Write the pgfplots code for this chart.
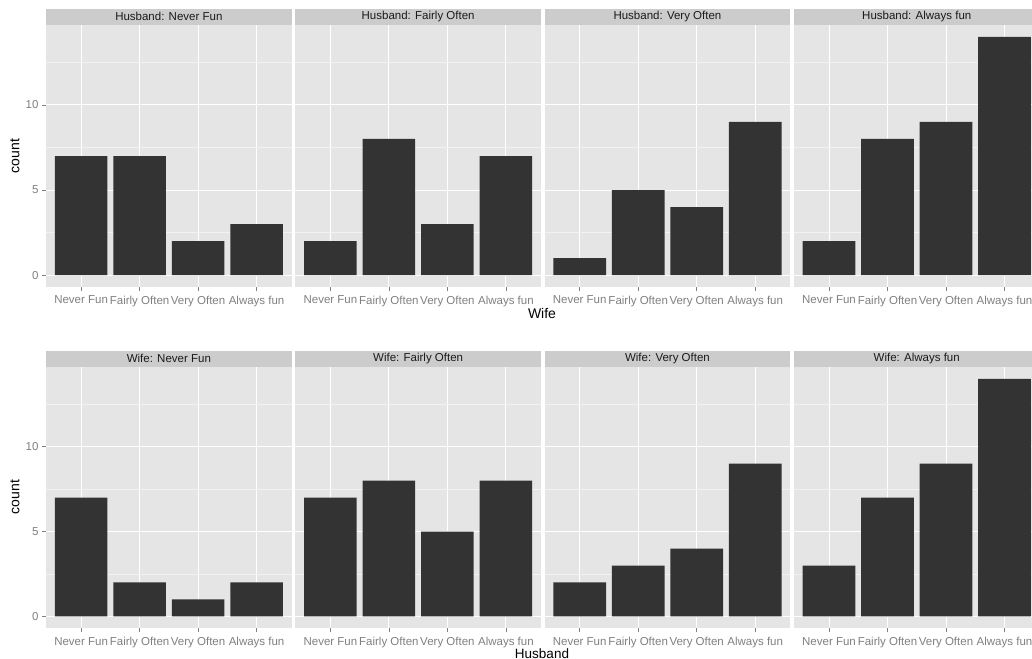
\documentclass[border=0pt]{standalone}
\usepackage{pgfplots}
\pgfplotsset{compat=1.18}
\usepackage{fontspec}
\setmainfont{Liberation Sans}
\definecolor{g90}{HTML}{E5E5E5}
\definecolor{g80}{HTML}{CCCCCC}
\definecolor{g50}{HTML}{7F7F7F}
\definecolor{g95}{HTML}{F2F2F2}
\definecolor{barc}{HTML}{333333}
\definecolor{g10}{HTML}{1A1A1A}
\pgfplotsset{
 panel/.style={
  scale only axis, width=245.7pt, height=#1,
  xmin=0.4, xmax=4.6, ymin=-0.7, ymax=14.7,
  axis background/.style={fill=g90},
  axis line style={draw=none},
  xtick={1,2,3,4}, xticklabels={Never Fun,Fairly Often,Very Often,Always fun},
  ytick={0,5,10}, minor ytick={2.5,7.5,12.5},
  grid=both,
  major grid style={white, line width=1pt},
  minor grid style={g95, line width=0.7pt},
  tick align=outside, major tick length=4pt, minor tick length=0pt,
  tick style={g50, line width=0.8pt},
  xtick pos=bottom, ytick pos=left,
  ticklabel style={font=\fontsize{11.5}{13}\selectfont, text=g50},
  xticklabel style={yshift=-1.5pt},
  /pgf/number format/assume math mode=true,
  ybar, bar width=0.9, bar shift=0pt,
  every axis plot post/.append style={fill=barc, draw=none},
 },
 inner/.style={yticklabels={}, ytick style={draw=none}},
}
\newcommand{\strip}[2]{%
  \fill[g80] (#1.north west) rectangle ([yshift=16.3pt]#1.north east);
  \node[text=g10, font=\fontsize{11.5}{13}\selectfont] at ([yshift=8.15pt]#1.north) {#2};
}
\begin{document}
\begin{tikzpicture}
\path[use as bounding box] (0,0) rectangle (1032pt,-658pt);
\clip (0,0) rectangle (1032pt,-658pt);
% ---------- top row ----------
\begin{axis}[panel=262pt, name=a1, at={(46pt,-287pt)}, anchor=south west]
\addplot coordinates {(1,7) (2,7) (3,2) (4,3)};
\end{axis}
\begin{axis}[panel=262pt, inner, name=a2, at={(295.3pt,-287pt)}, anchor=south west]
\addplot coordinates {(1,2) (2,8) (3,3) (4,7)};
\end{axis}
\begin{axis}[panel=262pt, inner, name=a3, at={(544.6pt,-287pt)}, anchor=south west]
\addplot coordinates {(1,1) (2,5) (3,4) (4,9)};
\end{axis}
\begin{axis}[panel=262pt, inner, name=a4, at={(793.9pt,-287pt)}, anchor=south west]
\addplot coordinates {(1,2) (2,8) (3,9) (4,14)};
\end{axis}
% ---------- bottom row ----------
\begin{axis}[panel=261.3pt, name=b1, at={(46pt,-628.3pt)}, anchor=south west]
\addplot coordinates {(1,7) (2,2) (3,1) (4,2)};
\end{axis}
\begin{axis}[panel=261.3pt, inner, name=b2, at={(295.3pt,-628.3pt)}, anchor=south west]
\addplot coordinates {(1,7) (2,8) (3,5) (4,8)};
\end{axis}
\begin{axis}[panel=261.3pt, inner, name=b3, at={(544.6pt,-628.3pt)}, anchor=south west]
\addplot coordinates {(1,2) (2,3) (3,4) (4,9)};
\end{axis}
\begin{axis}[panel=261.3pt, inner, name=b4, at={(793.9pt,-628.3pt)}, anchor=south west]
\addplot coordinates {(1,3) (2,7) (3,9) (4,14)};
\end{axis}
\strip{a1}{Husband: Never Fun}
\strip{a2}{Husband: Fairly Often}
\strip{a3}{Husband: Very Often}
\strip{a4}{Husband: Always fun}
\strip{b1}{Wife: Never Fun}
\strip{b2}{Wife: Fairly Often}
\strip{b3}{Wife: Very Often}
\strip{b4}{Wife: Always fun}
\node[font=\fontsize{14}{16}\selectfont] at (542pt,-313pt) {Wife};
\node[font=\fontsize{13.5}{15}\selectfont, anchor=north, inner sep=0pt] at (542pt,-648.5pt) {Husband};
\node[font=\fontsize{14}{16}\selectfont, rotate=90] at (15pt,-156pt) {count};
\node[font=\fontsize{14}{16}\selectfont, rotate=90] at (15pt,-497pt) {count};
\end{tikzpicture}
\end{document}
